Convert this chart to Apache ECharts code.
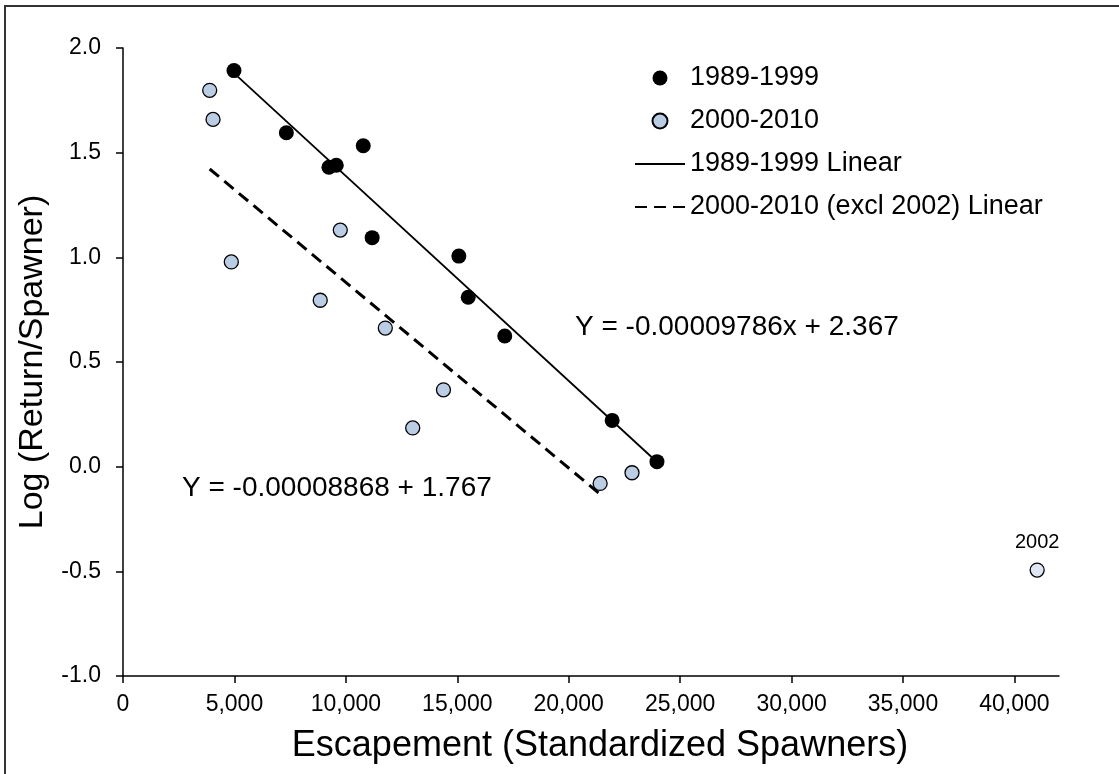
<!DOCTYPE html>
<html>
<head>
<meta charset="utf-8">
<script src="https://cdn.jsdelivr.net/npm/echarts@6/dist/echarts.min.js"></script>
<style>
html,body{margin:0;padding:0;background:#fff;}
#c{width:1119px;height:774px;}
</style>
</head>
<body>
<div id="c"></div>
<script>
// ---- data ----
const earlyX = [4980, 7330, 9240, 9570, 10780, 11180, 15070, 15490, 17130, 21950, 23960];
const earlyY = [1.892, 1.595, 1.430, 1.440, 1.533, 1.094, 1.006, 0.809, 0.624, 0.221, 0.024];
const lateX = [3890, 4040, 4860, 9750, 8850, 11770, 14380, 13000, 21410, 22840, 41020];
const lateY = [1.798, 1.659, 0.978, 1.130, 0.795, 0.662, 0.367, 0.185, -0.080, -0.029, -0.494];
const lateYears = [null, null, null, null, null, null, null, null, null, null, '2002'];
const outlierYear = '2002';
const fitEarly = { slope: -0.00009786, intercept: 2.367 };
const fitLate = { slope: -0.00008868, intercept: 1.767 };
const fitLateRange = [3890, 21410];
const xTicks = [0, 5000, 10000, 15000, 20000, 25000, 30000, 35000, 40000];
const yTicks = [-1.0, -0.5, 0.0, 0.5, 1.0, 1.5, 2.0];
const eqEarly = 'Y = -0.00009786x + 2.367';
const eqLate = 'Y = -0.00008868 + 1.767';

// ---- build ----
const FONT = '"Liberation Sans", Arial, sans-serif';
function fitLine(fit, lo, hi) {
  return [[lo, fit.intercept + fit.slope * lo], [hi, fit.intercept + fit.slope * hi]];
}
const earlyData = earlyX.map((x, i) => [x, earlyY[i]]);
const lateData = lateX.map((x, i) => {
  if (lateYears[i] === outlierYear) {
    return {
      value: [x, lateY[i]],
      itemStyle: { color: '#dde7f3' },
      label: { show: true, formatter: outlierYear, position: 'top', distance: 10,
               fontSize: 20, color: '#000', fontFamily: FONT }
    };
  }
  return [x, lateY[i]];
});

const chart = echarts.init(document.getElementById('c'), null, { renderer: 'canvas' });
chart.setOption({
  animation: false,
  backgroundColor: '#fff',
  textStyle: { fontFamily: FONT },
  grid: { left: 123, top: 48, right: 60, bottom: 98, containLabel: false, outerBoundsMode: 'none' },
  xAxis: {
    type: 'value', min: 0, max: 42000, interval: 5000,
    name: 'Escapement (Standardized Spawners)', nameLocation: 'middle', nameGap: 52,
    nameTextStyle: { fontSize: 36, color: '#000', fontFamily: FONT, padding: [0, 0, 0, 18] },
    axisLine: { show: true, onZero: false, lineStyle: { color: '#000', width: 1.5 } },
    axisTick: { show: true, length: 7, lineStyle: { color: '#000', width: 1.5 }, customValues: xTicks },
    axisLabel: { fontSize: 23, color: '#000', margin: 17, fontFamily: FONT, customValues: xTicks,
                 formatter: v => v.toLocaleString('en-US') },
    splitLine: { show: false }
  },
  yAxis: {
    type: 'value', min: -1, max: 2, interval: 0.5,
    name: 'Log (Return/Spawner)', nameLocation: 'middle', nameGap: 73,
    nameTextStyle: { fontSize: 34, color: '#000', fontFamily: FONT },
    axisLine: { show: true, onZero: false, lineStyle: { color: '#000', width: 1.5 } },
    axisTick: { show: true, length: 7, lineStyle: { color: '#000', width: 1.5 }, customValues: yTicks },
    axisLabel: { fontSize: 23, color: '#000', margin: 22, fontFamily: FONT, customValues: yTicks,
                 formatter: v => v.toFixed(1) },
    splitLine: { show: false }
  },
  legend: {
    orient: 'vertical', left: 629, top: 58, itemWidth: 50, itemHeight: 15, itemGap: 13,
    textStyle: { fontSize: 27, color: '#000', lineHeight: 30, fontFamily: FONT },
    data: [
      { name: '1989-1999', icon: 'circle' },
      { name: '2000-2010', icon: 'circle' },
      { name: '1989-1999 Linear', itemStyle: { opacity: 0, borderWidth: 0 } },
      { name: '2000-2010 (excl 2002) Linear', itemStyle: { opacity: 0, borderWidth: 0 } }
    ]
  },
  series: [
    { name: '1989-1999', type: 'scatter', symbol: 'circle', symbolSize: 15, z: 5,
      itemStyle: { color: '#000', borderColor: '#000', borderWidth: 0, opacity: 1 },
      data: earlyData },
    { name: '2000-2010', type: 'scatter', symbol: 'circle', symbolSize: 14, z: 5,
      itemStyle: { color: '#b9cde5', borderColor: '#000', borderWidth: 1.3, opacity: 1 },
      data: lateData },
    { name: '1989-1999 Linear', type: 'line', symbol: 'none', z: 3, color: '#000',
      lineStyle: { color: '#000', width: 1.8, type: 'solid' },
      data: fitLine(fitEarly, Math.min.apply(null, earlyX), Math.max.apply(null, earlyX)) },
    { name: '2000-2010 (excl 2002) Linear', type: 'line', symbol: 'none', z: 3, color: '#000',
      lineStyle: { color: '#000', width: 3, type: [12, 7] },
      data: fitLine(fitLate, fitLateRange[0], fitLateRange[1]) }
  ],
  graphic: [
    { type: 'polyline', silent: true, z: 0,
      shape: { points: [[5, 774], [5, 6], [1119, 6]] },
      style: { stroke: '#333', lineWidth: 2, fill: null } },
    { type: 'text', left: 575, top: 313, silent: true,
      style: { text: eqEarly, fontSize: 28, fill: '#000', fontFamily: FONT } },
    { type: 'text', left: 182, top: 474, silent: true,
      style: { text: eqLate, fontSize: 28, fill: '#000', fontFamily: FONT } }
  ]
});
</script>
</body>
</html>
